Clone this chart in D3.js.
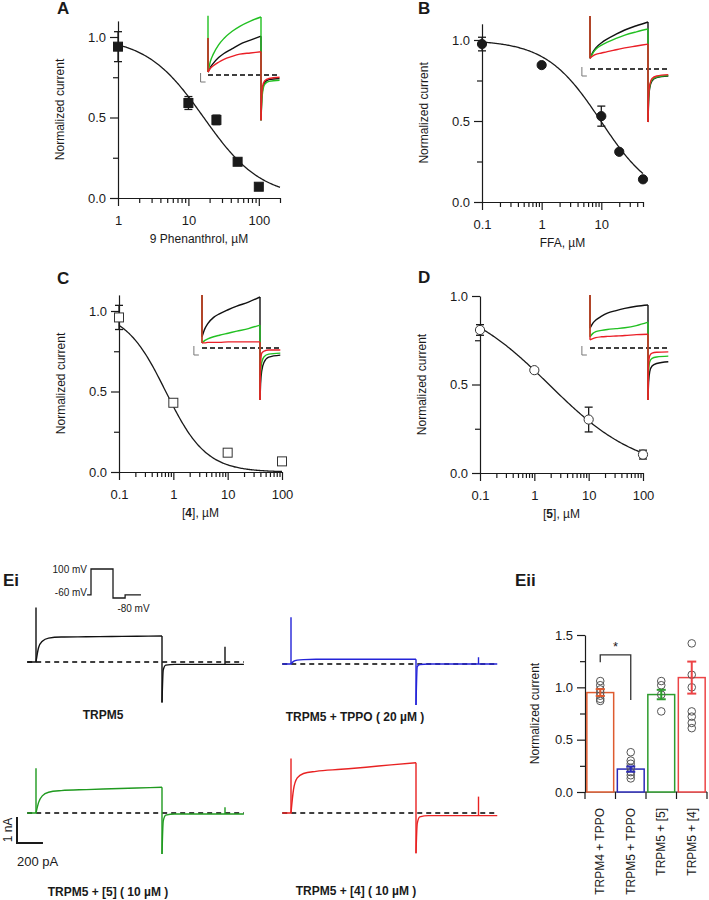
<!doctype html>
<html lang="en">
<head>
<meta charset="utf-8">
<title>TRPM5 inhibitors</title>
<style>
  body { margin: 0; background: #fff; }
</style>
</head>
<body>
<div id="chart"></div>
<script src="https://cdnjs.cloudflare.com/ajax/libs/d3/7.8.5/d3.min.js"></script>
<script>
// ---------- dose-response data (conc in uM, normalized current) ----------
const phenConc = [1, 10, 25, 50, 100];
const phenMean = [0.94, 0.59, 0.485, 0.225, 0.07];
const phenSem  = [0.093, 0.04, 0.03, 0.01, 0.01];
const phenFit  = [1, 16.5, 1.06];   // top, IC50, hill

const ffaConc = [0.1, 1, 10, 20, 50];
const ffaMean = [0.975, 0.845, 0.53, 0.31, 0.14];
const ffaSem  = [0.042, 0.01, 0.062, 0.01, 0.01];
const ffaFit  = [1, 9.8, 0.95];

const cmp4Conc = [0.1, 1, 10, 100];
const cmp4Mean = [0.96, 0.43, 0.12, 0.066];
const cmp4Sem  = [0.075, 0.01, 0.01, 0.01];
const cmp4Fit  = [1, 0.725, 1.17];

const cmp5Conc = [0.1, 1, 10, 100];
const cmp5Mean = [0.808, 0.581, 0.302, 0.104];
const cmp5Sem  = [0.03, 0.01, 0.07, 0.025];
const cmp5Fit  = [1, 1.86, 0.52];

// ---------- inset traces (t: 0 = step on, 1 = step off; current relative to control) ----------
// rows: control (black), green, red
const insetOnT   = [0, 0.05, 0.1, 0.2, 0.3, 0.45, 0.6, 0.8, 1];
const insetTailT = [1, 1.01, 1.03, 1.07, 1.15, 1.35];

const insetA_on = [
  [0.05, 0.14, 0.2, 0.3, 0.37, 0.45, 0.53, 0.6, 0.67],
  [0.05, 0.25, 0.36, 0.52, 0.63, 0.75, 0.84, 0.93, 1.0],
  [0.05, 0.12, 0.16, 0.22, 0.27, 0.32, 0.36, 0.38, 0.4]];
const insetA_tail = [
  [-0.78, -0.5, -0.25, -0.13, -0.08, -0.06],
  [-0.78, -0.55, -0.3, -0.16, -0.11, -0.09],
  [-0.78, -0.45, -0.2, -0.1, -0.06, -0.04]];
const insetA_spike = [0.64, 1.02, 0.64];

const insetB_on = [
  [0.23, 0.36, 0.45, 0.56, 0.64, 0.74, 0.83, 0.92, 1.0],
  [0.23, 0.34, 0.42, 0.51, 0.57, 0.65, 0.72, 0.79, 0.85],
  [0.23, 0.28, 0.31, 0.34, 0.37, 0.41, 0.45, 0.49, 0.53]];
const insetB_tail = [
  [-1.13, -0.7, -0.4, -0.25, -0.18, -0.15],
  [-1.13, -0.65, -0.37, -0.23, -0.17, -0.14],
  [-1.13, -0.6, -0.33, -0.2, -0.15, -0.12]];
const insetB_spike = [1.13, 1.13, 1.13];

const insetC_on = [
  [0.22, 0.38, 0.48, 0.6, 0.67, 0.75, 0.82, 0.9, 1.0],
  [0.1, 0.15, 0.18, 0.22, 0.25, 0.29, 0.33, 0.38, 0.45],
  [0.1, 0.1, 0.11, 0.11, 0.11, 0.12, 0.12, 0.12, 0.12]];
const insetC_tail = [
  [-1.02, -0.7, -0.45, -0.28, -0.18, -0.14],
  [-1.02, -0.5, -0.28, -0.17, -0.12, -0.1],
  [-1.02, -0.3, -0.1, -0.06, -0.04, -0.04]];
const insetC_spike = [1.04, 1.04, 1.04];

const insetD_on = [
  [0.46, 0.58, 0.65, 0.74, 0.81, 0.87, 0.92, 0.97, 1.0],
  [0.26, 0.34, 0.38, 0.41, 0.43, 0.45, 0.47, 0.52, 0.6],
  [0.19, 0.22, 0.24, 0.26, 0.27, 0.28, 0.29, 0.31, 0.32]];
const insetD_tail = [
  [-1.21, -0.8, -0.55, -0.42, -0.36, -0.32],
  [-1.21, -0.55, -0.32, -0.24, -0.21, -0.19],
  [-1.21, -0.4, -0.18, -0.12, -0.1, -0.09]];
const insetD_spike = [1.23, 1.23, 1.23];

// ---------- Ei whole-cell recordings (current in nA) ----------
const recNames = ["TRPM5", "TRPM5 + TPPO ( 20 µM )", "TRPM5 + [5] ( 10 µM )", "TRPM5 + [4] ( 10 µM )"];
const recOnT   = [0, 0.02, 0.05, 0.1, 0.2, 0.4, 0.6, 0.8, 1];
const recTailT = [1, 1.01, 1.03, 1.1, 1.65];
const recOn = [
  [0, 0.55, 0.8, 0.92, 0.96, 0.97, 0.98, 0.99, 1.0],
  [0, 0.1, 0.15, 0.17, 0.18, 0.18, 0.18, 0.18, 0.18],
  [0, 0.4, 0.66, 0.8, 0.86, 0.9, 0.93, 0.96, 0.99],
  [0, 0.9, 1.35, 1.52, 1.6, 1.68, 1.76, 1.85, 1.93]];
const recTail = [
  [-1.56, -0.3, -0.12, -0.09, -0.09],
  [-1.58, -0.1, -0.02, 0, 0],
  [-1.58, -0.3, -0.08, -0.04, -0.04],
  [-1.55, -0.4, -0.15, -0.1, -0.1]];
const recSpike = [2.1, 1.8, 1.72, 2.1];
const recLateSpike = [0.59, 0.26, 0.22, 0.63];
const recLateT = 1.5;

// voltage protocol
const stimEdges  = [-0.18, 0, 1, 1.55, 2.27];
const stimLevels = [-60, 100, -80, -60, -60];

// ---------- Eii summary ----------
const barGroups = ["TRPM4 + TPPO", "TRPM5 + TPPO", "TRPM5 + [5]", "TRPM5 + [4]"];
const barMean = [0.95, 0.219, 0.931, 1.093];
const barSem  = [0.033, 0.025, 0.045, 0.153];
const barPoints = [
  [1.06, 1.02, 0.98, 0.95, 0.92, 0.89, 0.87],
  [0.38, 0.3, 0.27, 0.23, 0.19, 0.16, 0.13],
  [1.06, 1.02, 0.93, 0.77],
  [1.42, 1.12, 1.0, 0.77, 0.72, 0.66, 0.61]];
const sigPair = [0, 1];
const sigLevels = [1.24, 1.31, 0.88];  // left foot, bar, right foot

// ---------- drawing ----------
const FONT = '"Liberation Sans", Arial, sans-serif';
const INK = "#1a1a1a";
const insetColors = ["#111111", "#22c022", "#ea1f27"];
const recColors = ["#111111", "#2424d8", "#1f9a1f", "#e82222"];
const barColors = ["#de5b2f", "#2b2bb8", "#2e9c2e", "#ec4446"];

const svg = d3.select("#chart").append("svg")
    .attr("width", 709).attr("height", 900)
    .attr("font-family", FONT);

const hill = (c, p) => p[0] / (1 + Math.pow(c / p[1], p[2]));

function styleAxis(sel) {
    sel.attr("font-family", FONT).attr("font-size", 13);
    sel.selectAll("path, line").attr("stroke", INK).attr("stroke-width", 1.2);
    sel.selectAll("text").attr("fill", INK);
}

function panelLetter(txt, x, y) {
    svg.append("text").attr("x", x).attr("y", y).attr("font-size", 17)
        .attr("font-weight", "bold").attr("fill", INK).text(txt);
}

function doseResponse(o) {
    const x = d3.scaleLog().domain(o.xDomain).range(o.xRange);
    const y = d3.scaleLinear().domain(o.yDomain).range(o.yRange);
    const g = svg.append("g");
    const base = y(0);

    // decade ticks + minor ticks
    const majors = [], minors = [];
    const e0 = Math.floor(Math.log10(o.xDomain[0]) + 1e-9);
    const e1 = Math.floor(Math.log10(o.xDomain[1]) + 1e-9);
    for (let e = e0; e <= e1; e++) {
        for (let k = 1; k < 10; k++) {
            const v = +(k * Math.pow(10, e)).toPrecision(4);
            if (v > o.xDomain[1] * 1.0001) break;
            (k === 1 ? majors : minors).push(v);
        }
    }
    g.append("g").attr("transform", `translate(0,${base})`)
        .call(d3.axisBottom(x).tickValues(majors).tickSize(8).tickSizeOuter(0)
            .tickPadding(10).tickFormat(d => String(d)))
        .call(styleAxis);
    g.append("g").attr("transform", `translate(0,${base})`)
        .call(d3.axisBottom(x).tickValues(minors).tickSize(5).tickFormat(""))
        .call(styleAxis).select(".domain").remove();

    const x0 = x(o.xDomain[0]);
    g.append("g").attr("transform", `translate(${x0},0)`)
        .call(d3.axisLeft(y).tickValues([0, 0.5, 1]).tickSize(8).tickSizeOuter(0)
            .tickPadding(4).tickFormat(d3.format(".1f")))
        .call(styleAxis);
    g.append("g").attr("transform", `translate(${x0},0)`)
        .call(d3.axisLeft(y).tickValues([0.25, 0.75]).tickSize(5).tickFormat(""))
        .call(styleAxis).select(".domain").remove();

    // titles
    const xt = g.append("text")
        .attr("x", (o.xRange[0] + o.xRange[1]) / 2).attr("y", base + 41).attr("dy", "0.35em")
        .attr("text-anchor", "middle").attr("font-size", 12).attr("fill", INK);
    o.xTitle.forEach(([s, b]) => xt.append("tspan").attr("font-weight", b ? "bold" : null).text(s));
    const ym = (y.range()[0] + y.range()[1]) / 2;
    g.append("text")
        .attr("transform", `translate(${x0 - 58},${ym}) rotate(-90)`).attr("dy", "0.35em")
        .attr("text-anchor", "middle").attr("font-size", 12).attr("fill", INK)
        .text("Normalized current");

    // fitted curve
    const cs = d3.range(0, 161).map(i => x.invert(o.xRange[0] + (o.xRange[1] - o.xRange[0]) * i / 160));
    g.append("path").datum(cs)
        .attr("d", d3.line().x(c => x(c)).y(c => y(hill(c, o.fit))))
        .attr("fill", "none").attr("stroke", INK).attr("stroke-width", 1.3);

    // error bars
    const pts = o.conc.map((c, i) => ({ c, m: o.mean[i], s: o.sem[i] }));
    const eb = g.append("g").attr("stroke", INK).attr("stroke-width", 1.3);
    pts.forEach(p => {
        const cx = x(p.c), t = y(p.m + p.s), b = y(p.m - p.s);
        eb.append("line").attr("x1", cx).attr("x2", cx).attr("y1", t).attr("y2", b);
        eb.append("line").attr("x1", cx - 4).attr("x2", cx + 4).attr("y1", t).attr("y2", t);
        eb.append("line").attr("x1", cx - 4).attr("x2", cx + 4).attr("y1", b).attr("y2", b);
    });

    // markers
    const fill = o.open ? "#fff" : INK;
    const stroke = o.open ? "#333" : INK;
    if (o.marker === "square") {
        g.selectAll("rect.pt").data(pts).join("rect").attr("class", "pt")
            .attr("x", p => x(p.c) - 4.5).attr("y", p => y(p.m) - 4.5)
            .attr("width", 9).attr("height", 9)
            .attr("fill", fill).attr("stroke", stroke).attr("stroke-width", 1);
    } else {
        g.selectAll("circle.pt").data(pts).join("circle").attr("class", "pt")
            .attr("cx", p => x(p.c)).attr("cy", p => y(p.m)).attr("r", 4.6)
            .attr("fill", fill).attr("stroke", stroke).attr("stroke-width", 1);
    }
}

function inset(o) {
    const x = d3.scaleLinear().domain([0, 1]).range(o.xRange);
    const y = d3.scaleLinear().domain([0, 1]).range(o.yRange);
    const g = svg.append("g");
    const end = insetTailT[insetTailT.length - 1];

    g.append("line").attr("x1", x(0)).attr("x2", x(end)).attr("y1", y(0)).attr("y2", y(0))
        .attr("stroke", "#000").attr("stroke-width", 1.5).attr("stroke-dasharray", "5,3");
    // little scale glyph
    const sx = x(-0.14), sy = y(0);
    g.append("path").attr("d", `M${sx},${sy - 2}V${sy + 7}H${sx + 5}`)
        .attr("fill", "none").attr("stroke", "#777").attr("stroke-width", 1);

    const curve = d3.line().x(d => x(d[0])).y(d => y(d[1])).curve(d3.curveMonotoneX);
    const seg = d3.line().x(d => x(d[0])).y(d => y(d[1]));
    [0, 1, 2].forEach(i => {
        const on = o.on[i], tail = o.tail[i], col = insetColors[i];
        const tr = g.append("g").attr("fill", "none").attr("stroke", col).attr("stroke-width", 1.4);
        tr.append("path").attr("d", seg([[0, on[0]], [0, o.spike[i]]]));
        tr.append("path").attr("d", curve(insetOnT.map((t, k) => [t, on[k]])));
        tr.append("path").attr("d", seg([[1, on[on.length - 1]], [1, tail[0]]]));
        tr.append("path").attr("d", curve(insetTailT.map((t, k) => [t, tail[k]])));
    });
}

// ---------- panels A-D ----------
panelLetter("A", 57, 14);
doseResponse({ xDomain: [1, 200], xRange: [118, 280], yDomain: [0, 1.1], yRange: [198, 20.9],
    conc: phenConc, mean: phenMean, sem: phenSem, fit: phenFit, marker: "square", open: false,
    xTitle: [["9 Phenanthrol, µM", false]] });
inset({ xRange: [208, 261], yRange: [75, 17], on: insetA_on, tail: insetA_tail, spike: insetA_spike });

panelLetter("B", 418, 14);
doseResponse({ xDomain: [0.1, 50], xRange: [482, 643], yDomain: [0, 1.1], yRange: [202, 23.8],
    conc: ffaConc, mean: ffaMean, sem: ffaSem, fit: ffaFit, marker: "circle", open: false,
    xTitle: [["FFA, µM", false]] });
inset({ xRange: [590, 648], yRange: [69, 22], on: insetB_on, tail: insetB_tail, spike: insetB_spike });

panelLetter("C", 57, 284);
doseResponse({ xDomain: [0.1, 100], xRange: [119, 282], yDomain: [0, 1.1], yRange: [472, 294.9],
    conc: cmp4Conc, mean: cmp4Mean, sem: cmp4Sem, fit: cmp4Fit, marker: "square", open: true,
    xTitle: [["[", false], ["4", true], ["], µM", false]] });
inset({ xRange: [202, 260], yRange: [348, 297], on: insetC_on, tail: insetC_tail, spike: insetC_spike });

panelLetter("D", 418, 283);
doseResponse({ xDomain: [0.1, 100], xRange: [480, 643], yDomain: [0, 1], yRange: [473, 296],
    conc: cmp5Conc, mean: cmp5Mean, sem: cmp5Sem, fit: cmp5Fit, marker: "circle", open: true,
    xTitle: [["[", false], ["5", true], ["], µM", false]] });
inset({ xRange: [590, 648], yRange: [348, 305], on: insetD_on, tail: insetD_tail, spike: insetD_spike });

// ---------- Ei ----------
panelLetter("Ei", 3, 586);

// voltage protocol
const stimX = d3.scaleLinear().domain([0, 1]).range([91, 113]);
const stimY = d3.scaleLinear().domain([-80, 100]).range([598, 569]);
svg.append("path")
    .attr("d", d3.line().x(d => stimX(d[0])).y(d => stimY(d[1])).curve(d3.curveStepAfter)
        (stimEdges.map((t, i) => [t, stimLevels[i]])))
    .attr("fill", "none").attr("stroke", INK).attr("stroke-width", 1.3);
const stimTxt = svg.append("g").attr("font-size", 10).attr("fill", INK);
stimTxt.append("text").attr("x", stimX(stimEdges[0])).attr("y", stimY(100)).attr("dy", "0.35em")
    .attr("text-anchor", "end").text("100 mV");
stimTxt.append("text").attr("x", stimX(stimEdges[0])).attr("y", stimY(-60)).attr("dy", "0.1em")
    .attr("text-anchor", "end").text("-60 mV");
stimTxt.append("text").attr("x", stimX(1.2)).attr("y", stimY(-80) + 14)
    .text("-80 mV");

const recLayout = [
    { xRange: [36, 162], base: 662, label: [103, 719] },
    { xRange: [291, 416], base: 664, label: [355, 721] },
    { xRange: [36, 162], base: 813, label: [108, 896] },
    { xRange: [291, 416], base: 813, label: [356, 895] }];
const pxPerNA = 26;

recLayout.forEach((L, i) => {
    const x = d3.scaleLinear().domain([0, 1]).range(L.xRange);
    const y = d3.scaleLinear().domain([0, 1]).range([L.base, L.base - pxPerNA]);
    const g = svg.append("g");
    const t0 = -0.07, t1 = recTailT[recTailT.length - 1];
    g.append("line").attr("x1", x(t0)).attr("x2", x(t1)).attr("y1", y(0)).attr("y2", y(0))
        .attr("stroke", "#000").attr("stroke-width", 1.4).attr("stroke-dasharray", "5,4");

    const curve = d3.line().x(d => x(d[0])).y(d => y(d[1])).curve(d3.curveMonotoneX);
    const seg = d3.line().x(d => x(d[0])).y(d => y(d[1]));
    const on = recOn[i], tail = recTail[i];
    const tr = g.append("g").attr("fill", "none").attr("stroke", recColors[i]).attr("stroke-width", 1.4);
    tr.append("path").attr("d", seg([[t0, 0], [0, 0], [0, recSpike[i]], [0, on[0]]]));
    tr.append("path").attr("d", curve(recOnT.map((t, k) => [t, on[k]])));
    tr.append("path").attr("d", seg([[1, on[on.length - 1]], [1, tail[0]]]));
    tr.append("path").attr("d", curve(recTailT.map((t, k) => [t, tail[k]])));
    const lateBase = tail[tail.length - 1];
    tr.append("path").attr("d", seg([[recLateT, lateBase], [recLateT, recLateSpike[i]]]));

    svg.append("text").attr("x", L.label[0]).attr("y", L.label[1])
        .attr("text-anchor", "middle").attr("font-size", 12).attr("font-weight", "bold")
        .attr("fill", INK).text(recNames[i]);
});

// scale bar
{
    const x = d3.scaleLinear().domain([0, 1]).range(recLayout[2].xRange);
    const k = pxPerNA;              // 1 nA
    const w = x(0.206) - x(0);      // time bar
    const cx = 17, cy = 843;
    svg.append("path").attr("d", `M${cx},${cy - k}V${cy}H${cx + w}`)
        .attr("fill", "none").attr("stroke", INK).attr("stroke-width", 2);
    svg.append("text").attr("transform", `translate(${cx - 9},${cy - k / 2}) rotate(-90)`)
        .attr("dy", "0.35em").attr("text-anchor", "middle").attr("font-size", 12).attr("fill", INK)
        .text("1 nA");
    svg.append("text").attr("x", cx).attr("y", cy + 23).attr("font-size", 13).attr("fill", INK)
        .text("200 pA");
}

// ---------- Eii ----------
panelLetter("Eii", 515, 586);
{
    const x = d3.scaleBand().domain(barGroups).range([585, 707]).paddingInner(0.12).paddingOuter(0.06);
    const y = d3.scaleLinear().domain([0, 1.5]).range([792, 635]);
    const g = svg.append("g");

    g.append("g").attr("transform", "translate(585,0)")
        .call(d3.axisLeft(y).tickValues([0, 0.5, 1, 1.5]).tickSize(8).tickSizeOuter(0)
            .tickPadding(4).tickFormat(d3.format(".1f")))
        .call(styleAxis);
    g.append("g").attr("transform", "translate(585,0)")
        .call(d3.axisLeft(y).tickValues([0.25, 0.75, 1.25]).tickSize(5).tickFormat(""))
        .call(styleAxis).select(".domain").remove();

    // category axis with ticks between groups
    const bounds = [x.range()[0]].concat(barGroups.map(d => x(d) + x.bandwidth() + x.step() * x.paddingInner() / 2));
    bounds[bounds.length - 1] = x.range()[1];
    g.append("line").attr("x1", x.range()[0]).attr("x2", x.range()[1]).attr("y1", y(0)).attr("y2", y(0))
        .attr("stroke", INK).attr("stroke-width", 1.2);
    g.selectAll("line.ctick").data(bounds).join("line").attr("class", "ctick")
        .attr("x1", d => d).attr("x2", d => d).attr("y1", y(0)).attr("y2", y(0) + 7)
        .attr("stroke", INK).attr("stroke-width", 1.2);
    g.selectAll("text.cat").data(barGroups).join("text").attr("class", "cat")
        .attr("transform", d => `translate(${x(d) + x.bandwidth() / 2},${y(0) + 16}) rotate(-90)`)
        .attr("dy", "0.35em").attr("text-anchor", "end").attr("font-size", 12).attr("fill", INK)
        .text(d => d);

    g.append("text").attr("transform", `translate(${585 - 50},${(y(0) + y(1.5)) / 2}) rotate(-90)`)
        .attr("dy", "0.35em").attr("text-anchor", "middle").attr("font-size", 12).attr("fill", INK)
        .text("Normalized current");

    // bars
    g.selectAll("rect.bar").data(barGroups).join("rect").attr("class", "bar")
        .attr("x", d => x(d)).attr("y", (d, i) => y(barMean[i]))
        .attr("width", x.bandwidth()).attr("height", (d, i) => y(0) - y(barMean[i]))
        .attr("fill", "#fff").attr("stroke", (d, i) => barColors[i]).attr("stroke-width", 1.5);

    // individual cells
    barGroups.forEach((d, i) => {
        const cx = x(d) + x.bandwidth() / 2;
        g.selectAll(null).data(barPoints[i]).join("circle")
            .attr("cx", cx).attr("cy", v => y(v)).attr("r", 3.8)
            .attr("fill", "none").attr("stroke", "#555").attr("stroke-width", 1);
        const t = y(barMean[i] + barSem[i]), b = y(barMean[i] - barSem[i]);
        const eb = g.append("g").attr("stroke", barColors[i]).attr("stroke-width", 2);
        eb.append("line").attr("x1", cx).attr("x2", cx).attr("y1", t).attr("y2", b);
        eb.append("line").attr("x1", cx - 4.5).attr("x2", cx + 4.5).attr("y1", t).attr("y2", t);
        eb.append("line").attr("x1", cx - 4.5).attr("x2", cx + 4.5).attr("y1", b).attr("y2", b);
    });

    // significance bracket
    const xa = x(barGroups[sigPair[0]]) + x.bandwidth() / 2;
    const xb = x(barGroups[sigPair[1]]) + x.bandwidth() / 2;
    g.append("path")
        .attr("d", `M${xa},${y(sigLevels[0])}V${y(sigLevels[1])}H${xb}V${y(sigLevels[2])}`)
        .attr("fill", "none").attr("stroke", "#333").attr("stroke-width", 1.3);
    g.append("text").attr("x", (xa + xb) / 2).attr("y", y(sigLevels[1]) - 4)
        .attr("text-anchor", "middle").attr("font-size", 13).attr("fill", INK).text("*");
}
</script>
</body>
</html>
